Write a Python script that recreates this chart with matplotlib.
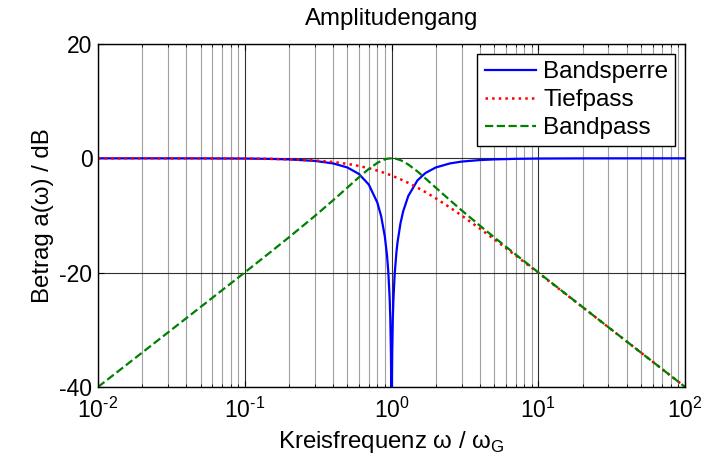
import numpy as np
import matplotlib
matplotlib.use("Agg")
import matplotlib.pyplot as plt
from matplotlib.ticker import LogLocator, NullFormatter, FuncFormatter

# Kreisfrequenz omega / omega_G
w = [0.01, 0.02, 0.05, 0.1, 0.15, 0.2, 0.3, 0.4, 0.5, 0.6, 0.7, 0.8, 0.85,
     0.9, 0.93, 0.95, 0.97, 0.98, 0.99, 0.995, 1.0, 1.005, 1.01, 1.02, 1.03,
     1.05, 1.08, 1.1, 1.15, 1.2, 1.3, 1.5, 1.7, 2.0, 2.5, 3.0, 4.0, 5.0, 7.0,
     10.0, 20.0, 50.0, 100.0]

# Betrag in dB
bandsperre = [0.0, 0.0, -0.01, -0.04, -0.10, -0.19, -0.45, -0.89, -1.60, -2.74,
              -4.60, -7.74, -10.16, -13.70, -16.85, -19.82, -24.32, -27.88,
              -33.94, -39.98, -80.0, -40.02, -34.02, -28.05, -24.58, -20.25,
              -16.34, -14.54, -11.37, -9.26, -6.58, -3.87, -2.57, -1.60, -0.89,
              -0.57, -0.30, -0.19, -0.09, -0.04, -0.01, 0.0, 0.0]
tiefpass = [0.0, 0.0, -0.01, -0.04, -0.10, -0.17, -0.37, -0.64, -0.97, -1.34,
            -1.73, -2.15, -2.36, -2.58, -2.71, -2.79, -2.88, -2.92, -2.97,
            -2.99, -3.01, -3.03, -3.05, -3.10, -3.14, -3.23, -3.36, -3.44,
            -3.66, -3.87, -4.30, -5.12, -5.90, -6.99, -8.60, -10.0, -12.30,
            -14.15, -16.99, -20.04, -26.03, -33.98, -40.0]
bandpass = [-40.0, -33.98, -26.01, -19.96, -16.38, -13.81, -10.09, -7.33, -5.12,
            -3.30, -1.85, -0.80, -0.44, -0.19, -0.09, -0.05, -0.02, -0.01, 0.0,
            0.0, 0.0, 0.0, 0.0, -0.01, -0.02, -0.04, -0.10, -0.16, -0.33, -0.55,
            -1.08, -2.29, -3.50, -5.12, -7.33, -9.09, -11.78, -13.81, -16.81,
            -19.96, -26.01, -33.98, -40.0]

plt.rcParams['font.family'] = ['Liberation Sans', 'DejaVu Sans']
plt.rcParams['mathtext.fontset'] = 'custom'
plt.rcParams['mathtext.rm'] = 'Liberation Sans'
plt.rcParams['axes.unicode_minus'] = False


def dekade(x, pos):
    # 10^n mit normalem Bindestrich wie im Original
    return r'$10^{\text{%d}}$' % int(round(np.log10(x)))


fig = plt.figure(figsize=(7.1, 4.62), dpi=100)
ax = fig.add_axes([0.138, 0.1623, 0.827, 0.7425])

ax.semilogx(w, bandsperre, color='#0000ff', lw=1.6, ls='-', label='Bandsperre')
ax.semilogx(w, tiefpass, color='#ff0000', lw=1.8, ls=':', label='Tiefpass')
ax.semilogx(w, bandpass, color='#008000', lw=1.6, ls='--', label='Bandpass')

ax.set_xlim(1e-2, 1e2)
ax.set_ylim(-40, 20)
ax.set_yticks([-40, -20, 0, 20])
ax.xaxis.set_major_locator(LogLocator(base=10, numticks=10))
ax.xaxis.set_major_formatter(FuncFormatter(dekade))
ax.xaxis.set_minor_locator(LogLocator(base=10, subs=np.arange(2, 10), numticks=20))
ax.xaxis.set_minor_formatter(NullFormatter())

ax.grid(True, which='major', color='#303030', lw=0.8)
ax.grid(True, which='minor', axis='x', color='#a0a0a0', lw=0.8)
ax.set_axisbelow(True)

ax.tick_params(which='both', direction='in', top=True, right=True, labelsize=16.5,
               color='black')
ax.tick_params(which='major', length=4)
ax.tick_params(which='minor', length=2.5)
ax.tick_params(axis='x', which='major', pad=8)
ax.tick_params(axis='y', which='major', pad=4)
for sp in ax.spines.values():
    sp.set_linewidth(1.0)

ax.set_title('Amplitudengang', fontsize=17.3, pad=14)
ax.set_xlabel('Kreisfrequenz ω / ω$_\\mathrm{G}$', fontsize=17.3, labelpad=4)
ax.set_ylabel('Betrag a(ω) / dB', fontsize=17.3, labelpad=4)

leg = ax.legend(loc='upper right', fontsize=17.5, fancybox=False, framealpha=1,
                edgecolor='black', handlelength=2.1, handletextpad=0.3,
                labelspacing=0.25, borderpad=0.3, borderaxespad=0.4)
leg.get_frame().set_linewidth(1.0)

fig.savefig('out.png', dpi=100)
